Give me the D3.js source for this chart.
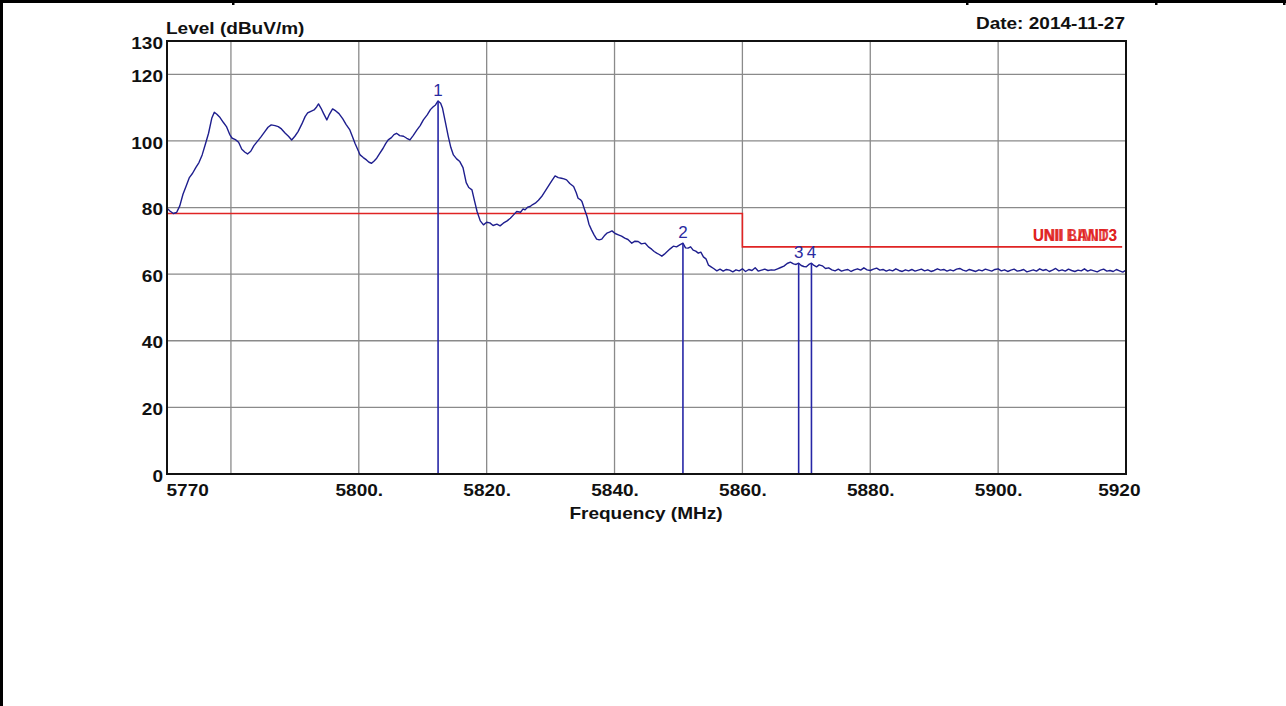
<!DOCTYPE html>
<html>
<head>
<meta charset="utf-8">
<script src="https://cdn.jsdelivr.net/npm/d3@7/dist/d3.min.js"></script>
<style>
  html, body { margin: 0; padding: 0; background: #fff; }
  svg { display: block; }
  text { font-family: "Liberation Sans", Arial, sans-serif; }
</style>
</head>
<body>
<svg id="chart" width="1286" height="706"></svg>
<script>
// Spectrum scan, 5770–5920 MHz, field strength in dBuV/m
const freqMHz = [
  5770.0,5770.5,5771.0,5771.5,5772.0,5772.5,5773.0,5773.5,5774.0,5774.5,
  5775.0,5775.5,5776.0,5776.5,5777.0,5777.4,5777.8,5778.3,5778.8,5779.3,
  5779.8,5780.2,5780.7,5781.2,5781.7,5782.2,5782.6,5783.1,5783.6,5784.2,
  5784.7,5785.3,5785.8,5786.3,5786.9,5787.4,5787.9,5788.5,5789.0,5789.5,
  5790.0,5790.5,5791.1,5791.6,5792.0,5792.5,5793.0,5793.4,5793.7,5794.1,
  5794.5,5795.0,5795.4,5795.9,5796.4,5796.9,5797.5,5798.0,5798.6,5799.0,
  5799.4,5799.8,5800.2,5800.7,5801.2,5801.6,5802.0,5802.4,5802.8,5803.3,
  5803.8,5804.2,5804.6,5805.1,5805.5,5805.9,5806.4,5807.0,5807.5,5808.0,
  5808.5,5809.1,5809.6,5810.1,5810.7,5811.2,5811.6,5812.0,5812.4,5812.8,
  5813.1,5813.5,5814.0,5814.4,5814.8,5815.3,5815.8,5816.3,5816.8,5817.2,
  5817.7,5818.1,5818.5,5819.0,5819.5,5820.0,5820.5,5821.0,5821.6,5822.1,
  5822.6,5823.2,5823.7,5824.2,5824.7,5825.3,5825.7,5826.0,5826.4,5826.8,
  5827.2,5827.6,5828.1,5828.6,5829.1,5829.6,5830.1,5830.7,5831.2,5831.7,
  5832.1,5832.5,5833.0,5833.6,5834.0,5834.3,5834.7,5834.9,5835.3,5835.7,
  5836.0,5836.4,5836.8,5837.2,5837.6,5838.0,5838.4,5838.8,5839.2,5839.6,
  5840.1,5840.6,5841.1,5841.6,5842.1,5842.7,5843.2,5843.7,5844.2,5844.8,
  5845.3,5845.8,5846.2,5846.6,5847.0,5847.4,5847.8,5848.2,5848.7,5849.2,
  5849.7,5850.2,5850.7,5851.1,5851.5,5851.9,5852.3,5852.7,5853.1,5853.5,
  5853.9,5854.3,5854.7,5855.1,5855.5,5856.0,5856.5,5857.0,5857.5,5858.0,
  5858.5,5859.0,5859.5,5860.0,5860.5,5861.0,5861.5,5862.0,5862.5,5863.0,
  5863.5,5864.0,5864.5,5865.0,5865.5,5866.0,5866.5,5867.0,5867.5,5868.0,
  5868.4,5868.8,5869.2,5869.6,5870.0,5870.4,5870.8,5871.2,5871.6,5872.0,
  5872.5,5873.0,5873.5,5874.0,5874.5,5875.0,5875.5,5876.0,5876.5,5877.0,
  5877.5,5878.0,5878.5,5879.0,5879.5,5880.0,5880.5,5881.0,5881.5,5882.0,
  5882.5,5883.0,5883.5,5884.0,5884.5,5885.0,5885.5,5886.0,5886.5,5887.0,
  5887.5,5888.0,5888.5,5889.0,5889.5,5890.0,5890.5,5891.0,5891.5,5892.0,
  5892.5,5893.0,5893.5,5894.0,5894.5,5895.0,5895.5,5896.0,5896.5,5897.0,
  5897.5,5898.0,5898.5,5899.0,5899.5,5900.0,5900.5,5901.0,5901.5,5902.0,
  5902.5,5903.0,5903.5,5904.0,5904.5,5905.0,5905.5,5906.0,5906.5,5907.0,
  5907.5,5908.0,5908.5,5909.0,5909.5,5910.0,5910.5,5911.0,5911.5,5912.0,
  5912.5,5913.0,5913.5,5914.0,5914.5,5915.0,5915.5,5916.0,5916.5,5917.0,
  5917.5,5918.0,5918.5,5919.0,5919.5,5920.0
];
const levelDb = [
  79.8,78.9,78.2,78.5,80.5,84.0,86.5,89.0,90.3,92.0,
  93.5,95.8,99.0,102.3,106.8,108.6,108.0,107.0,105.6,104.3,
  102.0,100.8,100.4,99.6,97.5,96.6,96.1,96.9,98.6,100.0,
  101.2,102.8,104.1,104.8,104.6,104.3,103.6,102.3,101.4,100.3,
  101.4,102.8,105.1,107.3,108.4,108.9,109.3,110.2,111.1,109.8,
  108.2,106.3,108.0,109.6,109.0,108.2,106.6,105.0,103.3,101.3,
  99.3,97.6,95.8,95.0,94.3,93.6,93.3,94.0,94.8,96.3,
  97.8,99.2,100.3,101.0,101.9,102.3,101.6,101.4,100.8,100.3,
  101.6,103.3,104.6,106.3,107.8,109.4,110.2,110.8,112.0,111.3,
  109.8,106.0,101.3,98.0,95.8,94.6,93.8,92.0,87.5,86.0,
  85.3,82.0,78.8,76.0,74.8,75.6,75.4,74.6,75.0,74.5,
  75.3,76.0,76.8,77.8,78.8,78.6,79.6,79.3,80.1,80.3,
  80.9,81.3,82.2,83.3,84.8,86.3,87.8,89.5,89.0,88.8,
  88.6,88.3,87.2,86.3,84.5,82.8,82.3,81.8,79.5,77.3,
  75.0,73.3,71.8,70.5,70.3,70.5,71.5,72.3,72.6,73.0,
  72.2,71.8,71.4,70.8,70.4,69.3,69.9,69.8,69.1,69.3,
  68.2,67.5,66.8,66.3,65.9,65.4,66.0,66.7,67.6,68.4,
  68.2,68.8,69.3,67.9,67.8,68.2,67.2,66.9,66.3,66.6,
  65.2,64.6,62.7,62.2,61.7,61.0,61.5,60.9,61.4,61.2,
  60.7,61.3,61.0,61.6,60.8,61.4,61.1,61.9,60.9,61.2,
  61.5,61.1,61.3,61.2,61.6,62.0,62.4,63.2,63.6,63.1,
  62.9,63.3,62.6,62.3,62.2,62.9,63.3,62.6,62.2,62.8,
  62.5,61.7,61.9,61.3,61.0,61.5,60.9,61.2,61.4,60.8,
  61.3,61.6,61.2,61.9,61.3,61.1,61.5,61.8,61.2,61.4,
  60.9,61.3,61.0,61.6,61.1,60.8,61.3,61.0,61.4,60.9,
  61.2,61.5,61.0,61.3,60.8,61.1,61.6,61.2,61.4,60.9,
  61.3,61.0,61.5,61.7,61.2,60.9,61.4,61.1,60.8,61.3,
  61.0,61.5,61.2,60.9,61.4,61.6,61.0,61.3,60.8,61.2,
  61.5,60.9,61.1,61.4,60.7,61.0,61.3,60.9,61.6,61.1,
  61.4,60.8,61.2,61.7,61.0,61.3,60.9,61.5,61.1,60.8,
  61.2,61.0,61.6,60.9,61.3,61.0,60.7,61.2,61.5,60.9,
  61.1,60.8,61.4,61.0,60.6,61.2
];

// Limit line (UNII band 3 limits)
const limitFreq = [5770, 5860, 5860, 5919.4];
const limitDb   = [78.2, 78.2, 68.2, 68.2];
const limitLabels = ["UNII BAND3", "UNII LIMIT3"];

// Marker readings
const markerIds  = ["1", "2", "3", "4"];
const markerFreq = [5812.4, 5850.7, 5868.8, 5870.8];
const markerDb   = [112.0, 69.3, 63.3, 63.3];

// Axes
const yTickValues = [0, 20, 40, 60, 80, 100, 120, 130];
const yGridValues = [20, 40, 60, 80, 100, 120];
const xTickValues = [5770, 5800, 5820, 5840, 5860, 5880, 5900, 5920];
const xTickLabels = ["5770", "5800.", "5820.", "5840.", "5860.", "5880.", "5900.", "5920"];
const xGridValues = [5780, 5800, 5820, 5840, 5860, 5880, 5900];

const yTitle = "Level (dBuV/m)";
const xTitle = "Frequency (MHz)";
const dateText = "Date: 2014-11-27";

const W = 1286, H = 706;
const plot = { left: 167, right: 1126, top: 41, bottom: 474 };
const SX = 1.12;           // horizontal widening of the bold label font
const FS = 17;

const svg = d3.select("#chart");
svg.append("rect").attr("width", W).attr("height", H).attr("fill", "#fff");

const x = d3.scaleLinear().domain([5770, 5920]).range([plot.left, plot.right]);
const y = d3.scaleLinear().domain([0, 130]).range([plot.bottom, plot.top]);

// Report table frame around the chart
const frame = svg.append("g").attr("fill", "#000");
frame.append("rect").attr("x", 0).attr("y", 0).attr("width", W).attr("height", 3);
frame.append("rect").attr("x", 0).attr("y", 0).attr("width", 3).attr("height", H);
[232, 966, 1155, 1283].forEach(cx => {
  frame.append("rect").attr("x", cx).attr("y", 0).attr("width", 2.5).attr("height", 5);
});

// Grid
const grid = svg.append("g").attr("stroke", "#8a8a8a").attr("stroke-width", 1.3);
grid.selectAll("line.gy").data(yGridValues).join("line")
  .attr("x1", plot.left).attr("x2", plot.right)
  .attr("y1", d => y(d)).attr("y2", d => y(d));
grid.selectAll("line.gx").data(xGridValues).join("line")
  .attr("x1", d => x(d)).attr("x2", d => x(d))
  .attr("y1", plot.top).attr("y2", plot.bottom);

// Limit line
const limitPts = limitFreq.map((f, i) => [f, limitDb[i]]);
svg.append("path")
  .attr("d", d3.line().x(d => x(d[0])).y(d => y(d[1]))(limitPts))
  .attr("fill", "none").attr("stroke", "#e02424").attr("stroke-width", 1.6);

// Measured trace
const tracePts = freqMHz.map((f, i) => [f, levelDb[i]]);
svg.append("path")
  .attr("d", d3.line().x(d => x(d[0])).y(d => y(d[1]))(tracePts))
  .attr("fill", "none").attr("stroke", "#1e1e8e").attr("stroke-width", 1.4)
  .attr("stroke-linejoin", "round");

// Markers
const markers = markerIds.map((id, i) => ({ id, f: markerFreq[i], db: markerDb[i] }));
const mg = svg.append("g");
mg.selectAll("line").data(markers).join("line")
  .attr("x1", d => x(d.f)).attr("x2", d => x(d.f))
  .attr("y1", d => y(d.db)).attr("y2", y(0))
  .attr("stroke", "#2626a6").attr("stroke-width", 1.6);
mg.selectAll("text").data(markers).join("text")
  .attr("x", d => x(d.f)).attr("y", d => y(d.db) - 5)
  .attr("text-anchor", "middle")
  .attr("font-size", 17).attr("fill", "#2a2aa0")
  .text(d => d.id);

// Plot border
svg.append("rect")
  .attr("x", plot.left).attr("y", plot.top)
  .attr("width", plot.right - plot.left).attr("height", plot.bottom - plot.top)
  .attr("fill", "none").attr("stroke", "#111").attr("stroke-width", 2);

// Y axis labels
const yAxis = svg.append("g")
  .attr("transform", `translate(${plot.left},0)`)
  .call(d3.axisLeft(y).tickValues(yTickValues).tickSize(0).tickPadding(0).tickFormat(d3.format("d")));
yAxis.select(".domain").remove();
yAxis.selectAll("text")
  .attr("x", -4 / SX).attr("dy", "0.42em")
  .attr("transform", `scale(${SX},1)`)
  .attr("font-family", "Liberation Sans, Arial, sans-serif")
  .attr("font-weight", "bold").attr("font-size", FS).attr("fill", "#111");

// X axis labels
const xAxis = svg.append("g")
  .attr("transform", `translate(0,${plot.bottom})`)
  .call(d3.axisBottom(x).tickValues(xTickValues).tickSize(0).tickPadding(0)
    .tickFormat((d, i) => xTickLabels[i]));
xAxis.select(".domain").remove();
xAxis.selectAll("text")
  .attr("y", 0).attr("dy", 0)
  .attr("font-family", "Liberation Sans, Arial, sans-serif")
  .attr("font-weight", "bold").attr("font-size", FS).attr("fill", "#111")
  .each(function (d, i) {
    const t = d3.select(this);
    const n = xTickValues.length;
    if (i === 0) {
      t.attr("text-anchor", "start").attr("transform", `translate(-1,21.5) scale(${SX},1)`);
    } else if (i === n - 1) {
      t.attr("text-anchor", "end").attr("transform", `translate(14,21.5) scale(${SX},1)`);
    } else {
      t.attr("text-anchor", "middle").attr("transform", `translate(0,21.5) scale(${SX},1)`);
    }
  });

// Titles
function boldText(str, tx, ty, anchor, size) {
  svg.append("text")
    .attr("transform", `translate(${tx},${ty}) scale(${SX},1)`)
    .attr("text-anchor", anchor)
    .attr("font-weight", "bold").attr("font-size", size).attr("fill", "#111")
    .text(str);
}
boldText(yTitle, plot.left - 1, 34, "start", FS);
boldText(dateText, plot.right - 1, 29, "end", FS);
boldText(xTitle, 646, 518.5, "middle", FS);

// Limit-line names, printed on top of each other at the line's right end
const lg = svg.append("g");
limitLabels.forEach(s => {
  lg.append("text")
    .attr("x", 1033).attr("y", y(68.2) - 6)
    .attr("text-anchor", "start")
    .attr("textLength", 84).attr("lengthAdjust", "spacingAndGlyphs")
    .attr("font-weight", "bold").attr("font-size", 16.5).attr("fill", "#e01c1c")
    .attr("fill-opacity", 0.85)
    .text(s);
});
</script>
</body>
</html>
